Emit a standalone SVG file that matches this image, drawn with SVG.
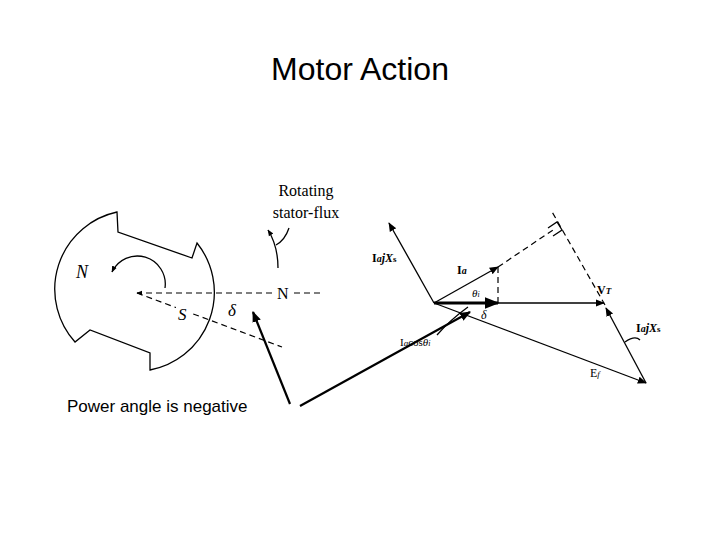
<svg xmlns="http://www.w3.org/2000/svg" width="720" height="540" viewBox="0 0 720 540">
<defs>
<marker id="ah" viewBox="0 0 10 10" refX="9" refY="5" markerWidth="7" markerHeight="7" orient="auto-start-reverse"><path d="M0,1 L10,5 L0,9 z" fill="#000"/></marker>
<marker id="ahs" viewBox="0 0 10 10" refX="9" refY="5" markerWidth="5" markerHeight="5" orient="auto-start-reverse"><path d="M0,1 L10,5 L0,9 z" fill="#000"/></marker>
</defs>
<style>
.s{fill:none;stroke:#000;stroke-width:1.3}
.d{fill:none;stroke:#000;stroke-width:1.2;stroke-dasharray:6 4}
.t{font-family:"Liberation Serif",serif;fill:#000}
</style>
<rect width="720" height="540" fill="#fff"/>
<text x="360" y="80" text-anchor="middle" font-family="Liberation Sans,sans-serif" font-size="32">Motor Action</text>
<g id="rotor">
<path class="s" d="M117,212 A79,79 0 0 0 75,342 L90,330 L150,353 L150,370 A79,79 0 0 0 197,243 L192,258 L118,232 Z"/>
<path class="s" d="M165,288 A28,28 0 0 0 112,272" marker-end="url(#ahs)"/>
<text class="t" x="76" y="278" font-size="18" font-style="italic">N</text>
</g>
<g id="axes">
<line class="d" x1="320" y1="293" x2="294" y2="293"/>
<line class="d" x1="272" y1="293" x2="137" y2="293" marker-end="url(#ahs)"/>
<line class="d" x1="137" y1="293" x2="282" y2="347"/>
<text class="t" x="277" y="299" font-size="16">N</text>
<rect x="176" y="305" width="16" height="18" fill="#fff"/>
<text class="t" x="178" y="320" font-size="17" font-style="italic">S</text>
<text class="t" x="228" y="316" font-size="17" font-style="italic">δ</text>
</g>
<g id="flux">
<path class="s" d="M278,268 Q278,246 268,230" marker-end="url(#ahs)"/>
<path class="s" d="M289,228 Q285,240 276,245"/>
<text class="t" x="306" y="196" font-size="16" text-anchor="middle">Rotating</text>
<text class="t" x="306" y="218" font-size="16" text-anchor="middle">stator-flux</text>
</g>
<g id="phasor">
<line class="s" x1="434" y1="303" x2="389" y2="223" marker-end="url(#ah)"/>
<line class="s" x1="434" y1="303" x2="498" y2="267" marker-end="url(#ah)"/>
<line class="d" x1="498" y1="267" x2="498" y2="303"/>
<line class="d" x1="498" y1="267" x2="553" y2="230"/>
<line x1="434" y1="303" x2="498" y2="303" stroke="#000" stroke-width="3" marker-end="url(#ahs)"/>
<line class="s" x1="498" y1="303" x2="604" y2="303" marker-end="url(#ah)"/>
<line class="s" x1="434" y1="303" x2="646" y2="383" marker-end="url(#ah)"/>
<line class="s" x1="646" y1="383" x2="606" y2="308" marker-end="url(#ah)"/>
<line class="d" x1="605" y1="305" x2="551" y2="210"/>
<path class="s" d="M548,228 L557,222 L562,230 L553,236"/>
<path class="s" d="M437,335 Q450,320 468,307"/>
<path class="s" d="M625,342 Q635,335 640,340"/>
<text class="t" x="372" y="262" font-size="12" font-weight="bold">I<tspan font-style="italic" font-size="10">a</tspan><tspan font-style="italic">jX</tspan><tspan font-size="9">s</tspan></text>
<text class="t" x="457" y="274" font-size="12" font-weight="bold">I<tspan font-size="10" font-style="italic">a</tspan></text>
<text class="t" x="472" y="297" font-size="11" font-style="italic">θ<tspan font-size="8">i</tspan></text>
<text class="t" x="597" y="294" font-size="12" font-weight="bold">V<tspan font-size="9" font-style="italic">T</tspan></text>
<text class="t" x="481" y="319" font-size="12" font-style="italic">δ</text>
<text class="t" x="400" y="346" font-size="11">I<tspan font-style="italic" font-size="9">a</tspan>cos<tspan font-style="italic">θ</tspan><tspan font-size="8" font-style="italic">i</tspan></text>
<text class="t" x="636" y="332" font-size="12" font-weight="bold">I<tspan font-style="italic" font-size="10">a</tspan><tspan font-style="italic">jX</tspan><tspan font-size="9">s</tspan></text>
<text class="t" x="590" y="377" font-size="12">E<tspan font-size="9" font-style="italic">f</tspan></text>
</g>
<g id="callout">
<text x="67" y="412" font-family="Liberation Sans,sans-serif" font-size="17">Power angle is negative</text>
<line x1="300" y1="406" x2="470" y2="312" stroke="#000" stroke-width="2.2" marker-end="url(#ahs)"/>
<line x1="290" y1="404" x2="253" y2="312" stroke="#000" stroke-width="2.2" marker-end="url(#ahs)"/>
</g>
</svg>
